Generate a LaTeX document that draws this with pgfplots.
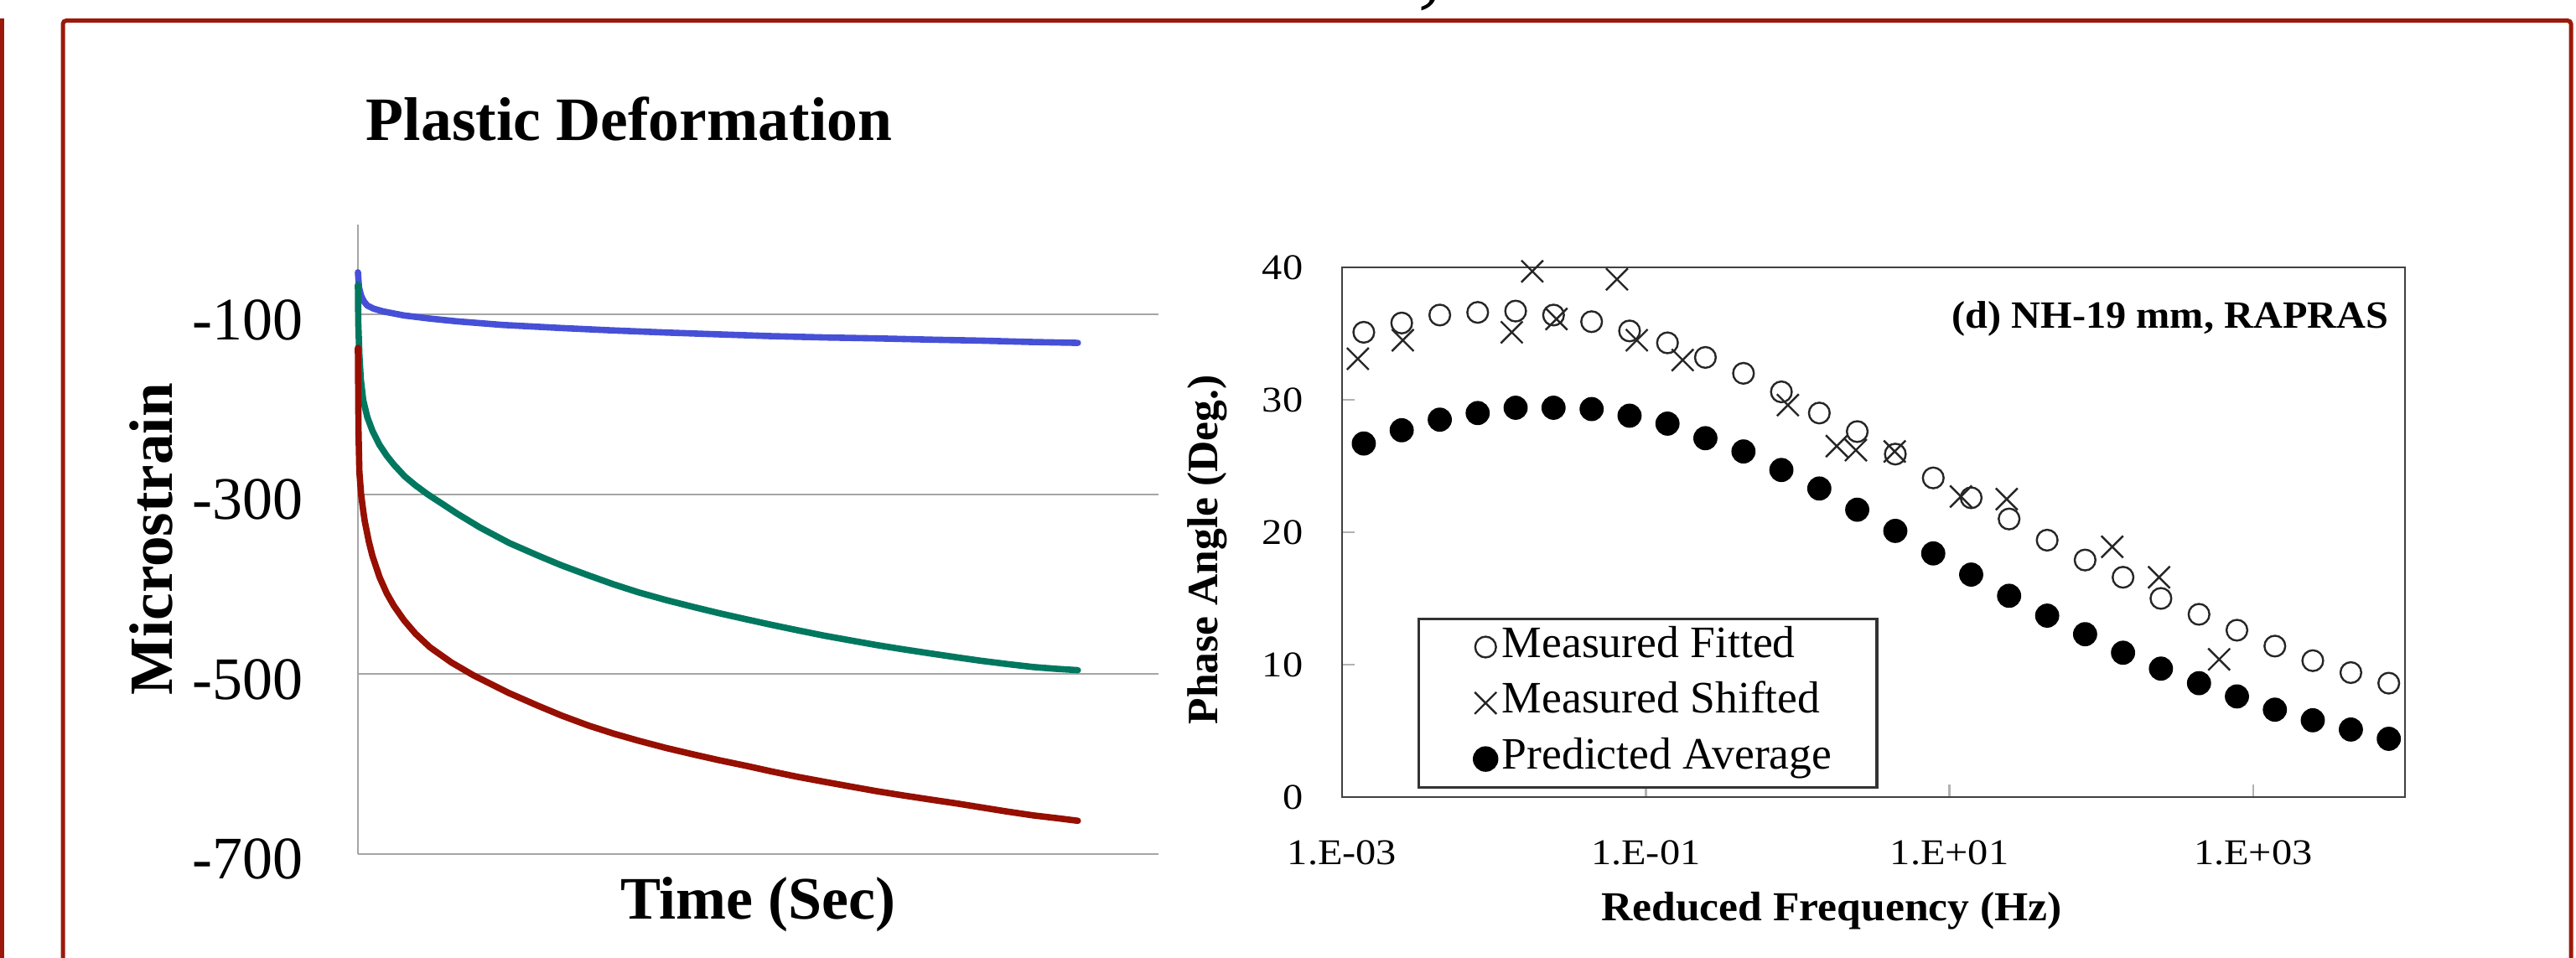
\documentclass[border=0pt]{standalone}
\usepackage{fontspec}
\setmainfont{Liberation Serif}
\newfontfamily\rfont[FakeStretch=1.12]{Liberation Serif}
\newfontfamily\rfontb[FakeStretch=1.05]{Liberation Serif}
\usepackage{pgfplots}
\pgfplotsset{compat=1.18}
\definecolor{framered}{RGB}{155,25,10}
\definecolor{cblue}{RGB}{70,80,215}
\definecolor{cgreen}{RGB}{0,120,95}
\definecolor{cred}{RGB}{150,15,0}
\definecolor{gridgray}{RGB}{165,165,165}
\newcommand{\lentry}[1]{\makebox[110.3pt][l]{#1}}
\begin{document}
\begin{tikzpicture}[x=1pt,y=1pt]
\useasboundingbox (0,0) rectangle (768.25,285.75);
\draw[framered, line width=1.25pt] (0.625,0) -- (0.625,280.2);
\draw[framered, line width=1.25pt, rounded corners=1pt] (18.75,0) -- (18.75,279.6) -- (766.75,279.6) -- (766.75,0);
\node[anchor=base, inner sep=0pt] at (426.5,287.2) {\fontsize{30}{30}\selectfont ,};

% ---------- left chart ----------
\begin{axis}[
  at={(106.75pt,31pt)}, anchor=south west,
  scale only axis, width=238.75pt, height=187.75pt,
  xmin=0, xmax=1112, ymin=-700, ymax=0,
  clip=false,
  axis lines*=left, axis line style={gridgray, line width=0.5pt},
  xtick=\empty, ytick={-700,-500,-300,-100}, yticklabels={-700,-500,-300,-100},
  ymajorgrids, grid style={gridgray, line width=0.5pt},
  major tick length=0pt,
  yticklabel style={font=\fontsize{18}{20}\selectfont, anchor=east, inner sep=0pt, xshift=-16.25pt, yshift=-1.6pt},
  title={\textbf{Plastic Deformation}},
  title style={font=\fontsize{18.4}{20}\selectfont, at={(axis description cs:0,1)}, anchor=base west, inner sep=0pt, xshift=2.25pt, yshift=19.25pt},
  xlabel={\textbf{Time (Sec)}},
  xlabel style={font=\fontsize{18}{20}\selectfont, at={(axis description cs:0.5,0)}, anchor=base, inner sep=0pt, yshift=-19.5pt},
  ylabel={\textbf{Microstrain}},
  ylabel style={font=\fontsize{18.3}{20}\selectfont, at={(axis description cs:-0.2586,0.5)}, anchor=center, inner sep=0pt},
]
\addplot[cblue, line width=1.9pt, line cap=round, line join=round] coordinates {
(0,-53)(1.5,-70)(4.4,-79)(8,-85)(13,-90)(22,-93.5)(35,-96.5)(64,-101)(100,-104.5)(137,-107.5)(200,-111.5)(283,-115)(350,-117.5)(428,-120)(500,-122)(574,-124)(650,-125.5)(720,-126.5)(800,-128)(865,-129)(935,-130.5)(1000,-131.5)};
\addplot[cgreen, line width=1.9pt, line cap=round, line join=round] coordinates {
(0,-67)(0.5,-110)(2,-145)(4,-172)(7.3,-195)(13,-214)(20,-229)(30,-245)(40,-257)(50,-267)(65,-280)(80,-290)(97,-300)(120,-312)(137,-321)(170,-337)(210,-354)(250,-368)(283,-379)(320,-390)(355,-400)(390,-409)(428,-417.5)(465,-425)(501,-432)(540,-439)(574,-445)(610,-451)(647,-457)(685,-462.5)(720,-467.5)(755,-472)(792,-476.5)(830,-481)(865,-485)(900,-488.5)(938,-492)(970,-494)(1000,-495.5)};
\addplot[cred, line width=1.9pt, line cap=round, line join=round] coordinates {
(0,-137)(0.8,-230)(2,-275)(4.4,-300)(7.3,-318)(9.5,-330)(15,-352)(20,-368)(30,-392)(40,-410)(50,-424)(64,-440)(80,-455)(100,-470)(130,-487)(160,-501)(210,-521)(250,-535)(283,-546)(320,-557)(355,-566)(390,-574)(428,-582)(465,-589)(501,-595.5)(540,-602)(574,-608)(610,-614)(647,-619.5)(685,-625)(720,-630)(755,-634.5)(792,-639)(830,-643.5)(865,-648)(900,-652.5)(938,-657)(970,-660)(1000,-663)};
\end{axis}

% ---------- right chart ----------
\begin{axis}[
  at={(400.25pt,48pt)}, anchor=south west,
  scale only axis, width=317pt, height=158pt,
  xmode=log, xmin=1e-3, xmax=1e4, ymin=0, ymax=40,
  xtick={1e-3,1e-1,1e1,1e3}, xticklabels={1.E-03,1.E-01,1.E+01,1.E+03},
  ytick={0,10,20,30,40}, yticklabels={0,10,20,30,40},
  xminorticks=false, yminorticks=false,
  tick pos=left, tick align=inside, major tick length=3.8pt,
  tick style={gray!60, line width=0.6pt},
  axis line style={black!75, line width=0.7pt},
  xticklabel style={font=\rfont\fontsize{10.8}{12}\selectfont, anchor=base, inner sep=0pt, yshift=-20.15pt},
  yticklabel style={font=\rfont\fontsize{10.8}{12}\selectfont, anchor=east, inner sep=0pt, xshift=-11.5pt},
  xlabel={\textbf{Reduced Frequency (Hz)}},
  xlabel style={font=\rfontb\fontsize{12.3}{14}\selectfont, at={(axis description cs:0.4606,0)}, anchor=base, inner sep=0pt, yshift=-37pt},
  ylabel={\textbf{Phase Angle (Deg.)}},
  ylabel style={font=\fontsize{12.9}{14}\selectfont, at={(axis description cs:-0.127,0.4668)}, anchor=center, inner sep=0pt},
  legend image code/.code={\path (0pt,0pt); \draw[mark repeat=2,mark phase=2,#1] plot coordinates {(18.5pt,0pt)(19.5pt,0pt)(20.5pt,0pt)};},
  legend cell align=left,
  legend style={at={(rel axis cs:0.071,0.0158)}, anchor=south west, draw=black!80, line width=0.8pt,
    font=\fontsize{13.4}{15}\selectfont, inner xsep=0pt, inner ysep=2.45pt, row sep=4.7pt,
    nodes={inner xsep=1.5pt, inner ysep=0pt, text height=9pt, text depth=3pt}},
]
\addplot[only marks, mark=o, mark size=3.1pt, mark options={black!85, line width=0.6pt}] coordinates {
(1.39e-3,35.1)(2.47e-3,35.8)(4.40e-3,36.4)(7.82e-3,36.6)(1.39e-2,36.7)(2.47e-2,36.4)(4.40e-2,35.9)(7.82e-2,35.2)
(0.139,34.3)(0.247,33.2)(0.440,32.0)(0.782,30.6)(1.39,29.0)(2.47,27.6)(4.40,25.9)(7.82,24.1)
(13.9,22.6)(24.7,21.0)(44.0,19.4)(78.2,17.9)(139,16.6)(247,15.0)(440,13.8)(782,12.6)
(1390,11.4)(2470,10.3)(4400,9.4)(7820,8.6)};
\addlegendentry{\lentry{Measured Fitted}}
\addplot[only marks, mark=x, mark size=4.6pt, mark options={black!85, line width=0.6pt}] coordinates {
(1.27e-3,33.1)(2.51e-3,34.5)(1.31e-2,35.1)(1.79e-2,39.7)(2.58e-2,36.1)(6.46e-2,39.1)(8.73e-2,34.5)
(0.175,33.0)(0.863,29.6)(1.81,26.5)(2.42,26.2)(4.36,26.1)(11.9,22.7)(23.8,22.5)(118,18.9)(240,16.6)(597,10.4)};
\addlegendentry{\lentry{Measured Shifted}}
\addplot[only marks, mark=*, mark size=3.4pt, mark options={black, fill=black}] coordinates {
(1.39e-3,26.7)(2.47e-3,27.7)(4.40e-3,28.5)(7.82e-3,29.0)(1.39e-2,29.4)(2.47e-2,29.4)(4.40e-2,29.3)(7.82e-2,28.8)
(0.139,28.2)(0.247,27.1)(0.440,26.1)(0.782,24.7)(1.39,23.3)(2.47,21.7)(4.40,20.1)(7.82,18.4)
(13.9,16.8)(24.7,15.2)(44.0,13.7)(78.2,12.3)(139,10.9)(247,9.7)(440,8.6)(782,7.6)
(1390,6.6)(2470,5.8)(4400,5.1)(7820,4.4)};
\addlegendentry{\lentry{Predicted Average}}
\node[anchor=base east, inner sep=0pt, font=\rfontb\bfseries\fontsize{11.5}{13}\selectfont, xshift=-4.75pt, yshift=-18.2pt] at (rel axis cs:1,1) {(d) NH-19 mm, RAPRAS};
\end{axis}
\end{tikzpicture}
\end{document}
